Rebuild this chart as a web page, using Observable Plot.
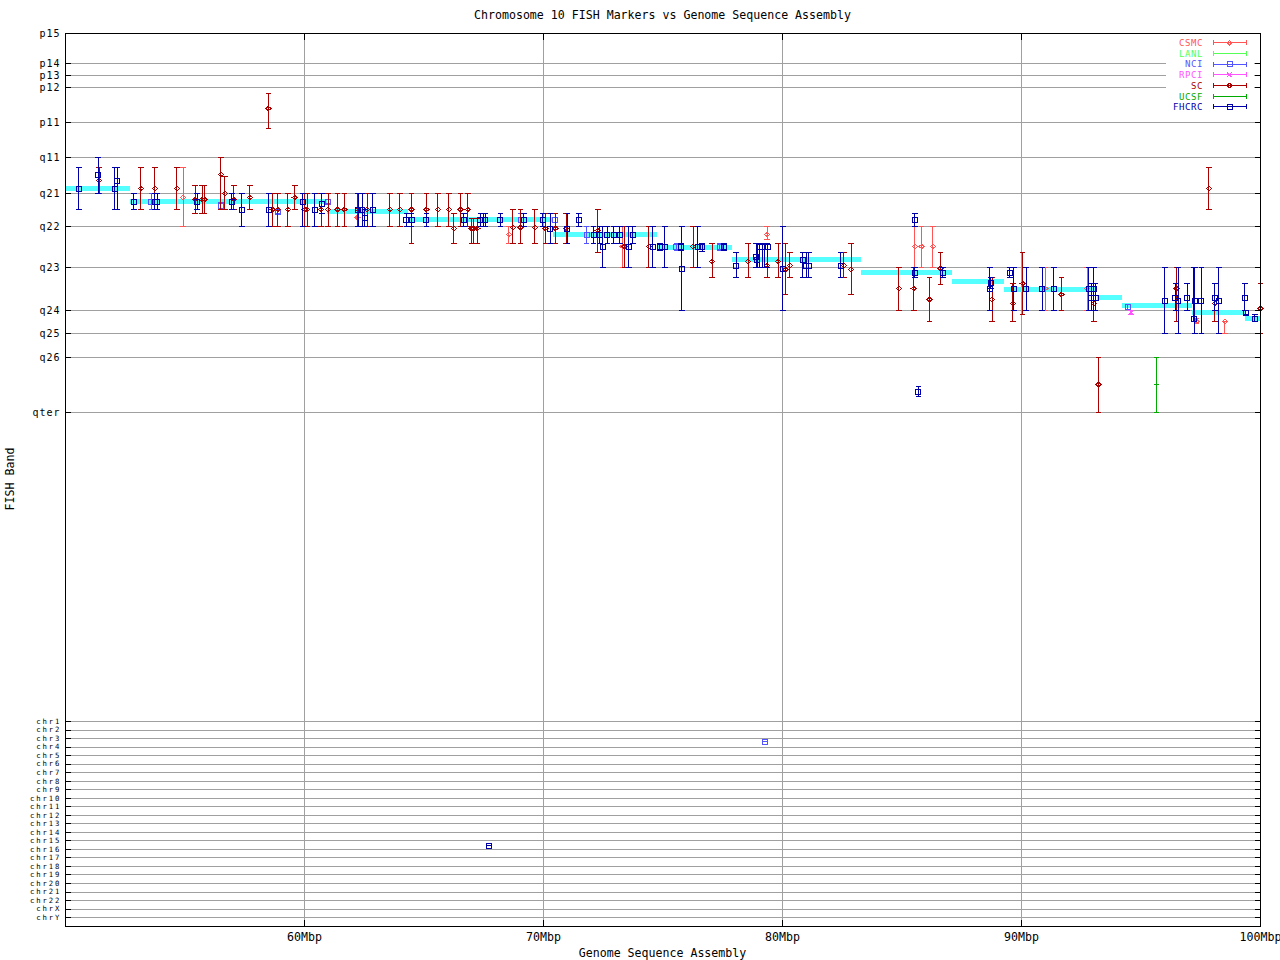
<!DOCTYPE html>
<html><head><meta charset="utf-8">
<script src="https://cdn.jsdelivr.net/npm/d3@7"></script>
<script src="https://cdn.jsdelivr.net/npm/@observablehq/plot@0.6"></script>
<style>
html,body{margin:0;padding:0;background:#fff;}
#chart svg{display:block;}
</style></head><body><div id="chart"></div>
<script>
// ---- Axis / band data ----
const bandLabels = ["p15","p14","p13","p12","p11","q11","q21","q22","q23","q24","q25","q26","qter"];
const bandPos    = [0, 30, 42, 54, 89, 124, 160, 193, 234, 277, 300, 324, 379];
const chrLabels  = ["chr1","chr2","chr3","chr4","chr5","chr6","chr7","chr8","chr9","chr10","chr11","chr12",
                    "chr13","chr14","chr15","chr16","chr17","chr18","chr19","chr20","chr21","chr22","chrX","chrY"];
const chrPos     = [688,696.5,705,713.6,722.1,730.6,739.1,747.7,756.2,764.7,773.2,781.7,
                    790.3,798.8,807.3,815.8,824.4,832.9,841.4,849.9,858.5,867,875.5,884];
const xTicks = [60,70,80,90,100];
const yBottom = 893;

// ---- Sequence assembly segments (cyan) ----
const segStart = [50, 52.72, 60.96, 64.35, 70.42, 74.77, 77.91, 83.31, 87.11, 89.29, 93.18, 94.23, 97.15, 99.37];
const segEnd   = [52.72, 60.96, 64.35, 70.42, 74.77, 77.91, 83.31, 87.11, 89.29, 93.18, 94.23, 97.15, 99.37, 100];
const segBand  = [155, 168, 177.7, 186, 201, 213.7, 226, 239, 248, 256, 263.7, 272, 278.7, 285];

// ---- FISH markers: [Mbp, band, bandLow, bandHigh] ----
const csmc = [
 [54.92,164,134,193],[62.21,184,184,184],[68.55,201,193,210],[73.31,213,193,234],
 [79.36,201,193,206],[85.54,213,193,234],[85.82,213,193,234],[86.29,213,193,234],
 [91.00,255,234,277],[92.75,255,234,277],[97.32,288,285,290],[98.51,288,288,300]
];
const lanl = [];
const nci = [
 [53.59,168,160,176],[56.50,172,169,176],[58.88,178,176,180],[60.99,168,166,170],
 [69.04,186,180,193],[70.50,186,180,193],[71.80,201,193,210],[75.56,213,210,217],
 [77.38,213,210,217],[94.45,273,271,276],[79.26,708,708,708]
];
const rpci = [[94.59,279,277,281]];
const sc = [
 [51.41,147,134,160],[53.15,155,134,176],[53.74,155,134,176],[54.66,155,134,176],
 [55.43,166,152,180],[55.72,166,152,180],[55.82,166,152,180],[56.50,141,124,176],
 [56.67,160,143,176],[57.04,166,152,176],[57.71,164,152,176],[58.49,75,60,95],
 [58.67,176,160,193],[58.88,176,160,193],[59.30,176,160,193],[59.59,164,152,176],
 [60.01,176,160,193],[60.11,176,160,193],[60.70,176,160,193],[60.99,176,160,193],
 [61.38,176,160,193],[61.67,176,160,193],[62.23,176,160,193],[62.62,176,160,193],
 [63.57,176,160,193],[63.99,176,160,193],[64.48,176,160,210],[65.10,176,160,193],
 [65.58,176,160,193],[66.04,176,160,193],[66.25,195,180,210],[66.53,176,160,193],
 [66.83,176,160,193],[66.99,195,185,210],[67.08,195,185,210],[67.23,195,185,210],
 [68.72,194,176,210],[69.04,194,176,210],[69.64,194,176,210],[70.08,195,180,210],
 [70.50,195,180,210],[70.95,195,180,210],[72.27,197,176,219],[73.39,213,193,234],
 [74.41,213,193,234],[76.26,213,193,234],[77.06,228,210,244],[78.56,228,210,244],
 [79.36,232,210,244],[79.82,228,210,244],[80.13,236,210,261],[80.31,232,219,244],
 [82.57,232,219,244],[82.87,236,210,261],[84.87,255,234,277],[85.49,255,234,277],
 [86.15,266,244,288],[86.61,235,219,251],[88.77,266,244,288],[89.64,270,250,288],
 [90.05,250,219,281],[91.67,261,244,277],[93.03,270,250,288],[93.22,351,324,379],
 [96.49,255,234,288],[97.84,155,134,176],[98.09,270,250,288],[100.0,275,250,300]
];
const ucsf = [[95.65,351,324,379]];
const fhcrc = [
 [50.56,155,134,176],[51.37,141,124,160],[52.06,155,134,176],[52.16,147,134,176],
 [52.86,168,160,176],[53.74,168,160,176],[53.84,168,160,176],[55.51,168,160,176],
 [56.96,168,160,176],[57.38,176,160,193],[58.51,176,160,193],[59.93,168,160,193],
 [60.43,176,160,193],[60.72,170,160,180],[62.25,176,160,193],[62.41,176,160,193],
 [62.52,184,176,193],[62.86,176,160,193],[64.26,186,180,193],[64.48,186,180,193],
 [65.10,186,180,193],[66.67,186,180,193],[67.36,186,180,193],[67.48,186,180,193],
 [67.56,186,180,193],[68.20,186,180,193],[69.18,186,180,193],[69.97,186,180,193],
 [70.29,195,180,210],[71.00,195,180,210],[71.48,186,180,193],[72.10,201,193,210],
 [72.36,201,193,210],[72.48,213,193,234],[72.67,201,193,210],[72.94,201,193,210],
 [73.19,201,193,210],[73.57,213,193,234],[73.74,201,193,210],[74.57,213,193,234],
 [74.87,213,210,217],[75.08,213,193,234],[75.76,213,210,217],[75.79,235,193,277],
 [76.46,213,193,234],[76.64,213,210,218],[77.54,213,210,217],[78.06,232,219,244],
 [78.90,223,210,234],[78.94,226,210,234],[79.05,213,210,234],[79.15,213,210,234],
 [79.25,213,210,234],[79.38,213,210,234],[80.01,235,193,277],[80.85,226,219,244],
 [80.99,232,219,244],[81.10,232,219,244],[82.43,232,219,244],[85.54,186,180,193],
 [85.54,239,234,244],[86.71,239,234,244],[85.69,358,353,363],[88.67,255,234,277],
 [88.72,249,244,255],[89.51,239,234,244],[89.68,255,234,277],[90.20,255,234,277],
 [90.87,255,234,277],[91.35,255,234,277],[92.82,255,234,277],[92.92,264,250,277],
 [93.03,255,234,277],[93.10,264,250,277],[96.00,267,234,300],[96.44,264,250,277],
 [96.56,267,234,300],[96.93,264,250,277],[97.21,285,234,288],[97.25,267,234,300],
 [97.53,267,234,300],[98.09,264,250,277],[98.26,267,234,300],[99.34,264,250,277],
 [99.39,279,277,281],[99.76,285,281,288],[67.71,812,812,812]
];

const seriesNames   = ["CSMC","LANL","NCI","RPCI","SC","UCSF","FHCRC"];
const seriesColors  = ["#ff5555","#55ff55","#5555ff","#ff55ff","#aa0000","#00aa00","#0000aa"];
const seriesSymbols = ["diamond","tick","square","cross","diamond","tick","square"];
const seriesData    = [csmc, lanl, nci, rpci, sc, ucsf, fhcrc];

// ---- symbols ----
const symbolDefs = {
  diamond: {draw(c){c.moveTo(0,-2.3);c.lineTo(2.5,0);c.lineTo(0,2.3);c.lineTo(-2.5,0);c.closePath();}},
  square:  {draw(c){c.rect(-2.5,-2.5,5,5);}},
  cross:   {draw(c){c.moveTo(-2.2,-2.2);c.lineTo(2.2,2.2);c.moveTo(-2.2,2.2);c.lineTo(2.2,-2.2);}},
  tick:    {draw(c){c.moveTo(-2.5,0);c.lineTo(2.5,0);}}
};
const capSym = {draw(c){c.moveTo(-2.8,0);c.lineTo(2.8,0);}};

const yTickValues = [...bandPos, ...chrPos];
const yLabelMap = new Map([...bandPos.map((v,i)=>[v,bandLabels[i]]), ...chrPos.map((v,i)=>[v,chrLabels[i]])]);
const segs = segStart.map((s,i)=>({x1:s, x2:segEnd[i], y:segBand[i]}));

const marks = [
  Plot.gridY(yTickValues, {stroke:"#a0a0a0", strokeOpacity:1, strokeWidth:1}),
  Plot.gridX([60,70,80,90], {stroke:"#a0a0a0", strokeOpacity:1, strokeWidth:1}),
  Plot.ruleY(segs, {y:"y", x1:"x1", x2:"x2", stroke:"#55ffff", strokeWidth:5})
];
seriesData.forEach((data, k) => {
  const color = seriesColors[k];
  marks.push(
    Plot.ruleX(data, {x:d=>d[0], y1:d=>d[2], y2:d=>d[3], stroke:color, strokeWidth:1}),
    Plot.dot(data, {x:d=>d[0], y:d=>d[2], symbol:capSym, stroke:color, fill:"none", strokeWidth:1}),
    Plot.dot(data, {x:d=>d[0], y:d=>d[3], symbol:capSym, stroke:color, fill:"none", strokeWidth:1}),
    Plot.dot(data, {x:d=>d[0], y:d=>d[1], symbol:symbolDefs[seriesSymbols[k]], stroke:color, fill:"none", strokeWidth:1})
  );
});
marks.push(
  Plot.frame({stroke:"black", strokeWidth:1}),
  Plot.axisY(bandPos, {anchor:"left", tickSize:0, tickPadding:6, fontSize:10, tickFormat:d=>yLabelMap.get(d), label:null}),
  Plot.axisY(chrPos, {anchor:"left", tickSize:0, tickPadding:6, fontSize:7.3, tickFormat:d=>yLabelMap.get(d), label:null}),
  Plot.axisY(yTickValues, {anchor:"left", tickSize:6, dx:6, tickFormat:()=>"", label:null}),
  Plot.axisY(yTickValues, {anchor:"right", tickSize:6, dx:-6, tickFormat:()=>"", label:null}),
  Plot.axisX(xTicks, {anchor:"bottom", tickSize:0, tickPadding:6, tickFormat:d=>d+"Mbp", label:null}),
  Plot.axisX(xTicks, {anchor:"bottom", tickSize:6, dy:-6, tickFormat:()=>"", label:null}),
  Plot.axisX(xTicks, {anchor:"top", tickSize:6, dy:6, tickFormat:()=>"", label:null})
);

const chart = Plot.plot({
  width:1280, height:960,
  marginLeft:65, marginRight:20, marginTop:33, marginBottom:34,
  x:{domain:[50,100]},
  y:{domain:[0,yBottom], reverse:true},
  style:{fontFamily:"'DejaVu Sans Mono', monospace", fontSize:"11.6px", background:"#fff", color:"black"},
  marks
});
document.getElementById("chart").appendChild(chart);

// ---- label spacing to mimic the wide bitmap font ----
const svg = d3.select(chart);
svg.attr("shape-rendering","crispEdges");
svg.selectAll('g[aria-label="y-axis tick label"] text').each(function(){
  const t = this.textContent;
  if (t.startsWith("chr")) d3.select(this).style("letter-spacing","1.9px").attr("dx", 1.9);
  else if (t) d3.select(this).style("letter-spacing","1px").attr("dx", 1);
});

// ---- title, axis labels, legend ----
const font = "'DejaVu Sans Mono', monospace";
svg.append("text").attr("x",662.5).attr("y",19).attr("text-anchor","middle")
  .style("font-family",font).style("font-size","11.6px").attr("fill","black")
  .text("Chromosome 10 FISH Markers vs Genome Sequence Assembly");
svg.append("text").attr("x",662.5).attr("y",957).attr("text-anchor","middle")
  .style("font-family",font).style("font-size","11.6px").attr("fill","black")
  .text("Genome Sequence Assembly");
svg.append("text").attr("transform","translate(14,479) rotate(-90)").attr("text-anchor","middle")
  .style("font-family",font).style("font-size","11.6px").attr("fill","black")
  .text("FISH Band");

const lg = svg.append("g");
lg.append("rect").attr("x",1166).attr("y",36).attr("width",88).attr("height",78).attr("fill","white");
seriesNames.forEach((name,i)=>{
  const y = 42.7 + i*10.7;
  const c = seriesColors[i];
  lg.append("text").attr("x",1203).attr("y",y+3.3).attr("text-anchor","end")
    .style("font-family",font).style("font-size","9px").style("letter-spacing","0.6px").attr("fill",c).text(name);
  lg.append("line").attr("x1",1213).attr("x2",1246.5).attr("y1",y).attr("y2",y).attr("stroke",c);
  lg.append("line").attr("x1",1213).attr("x2",1213).attr("y1",y-2.5).attr("y2",y+2.5).attr("stroke",c);
  lg.append("line").attr("x1",1246.5).attr("x2",1246.5).attr("y1",y-2.5).attr("y2",y+2.5).attr("stroke",c);
  const p = d3.path(); symbolDefs[seriesSymbols[i]].draw(p);
  lg.append("path").attr("d",p.toString()).attr("transform",`translate(1229.5,${y})`)
    .attr("fill","none").attr("stroke",c);
});
</script></body></html>
